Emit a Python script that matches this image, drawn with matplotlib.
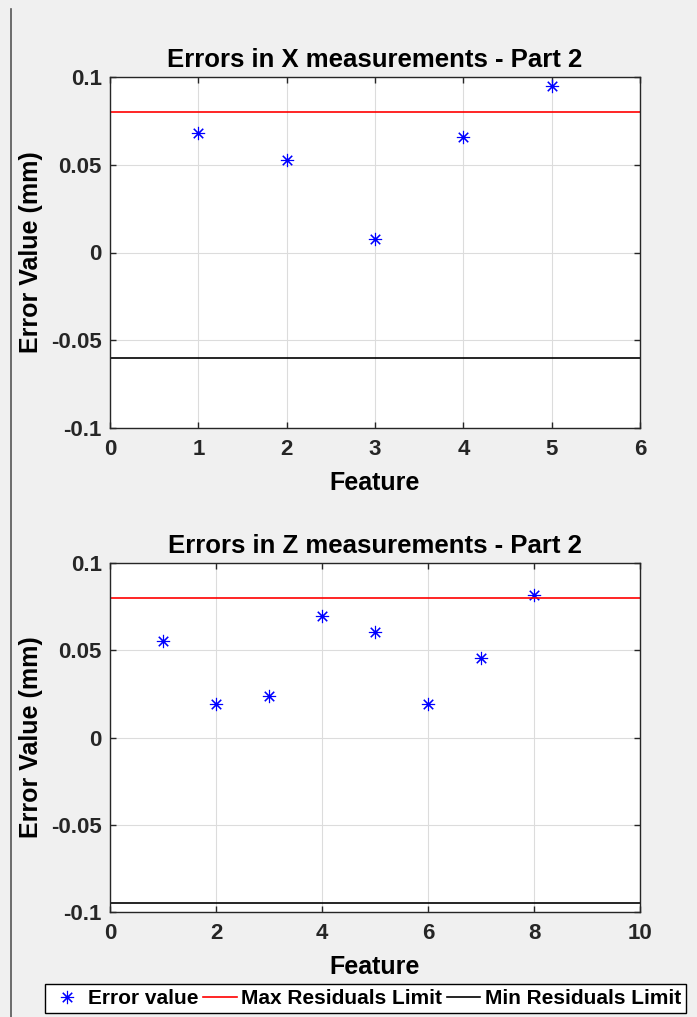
import numpy as np
import matplotlib.pyplot as plt
from matplotlib.lines import Line2D

plt.rcParams['font.family'] = ['Liberation Sans', 'DejaVu Sans']
plt.rcParams['font.weight'] = 'bold'

# X errors (part 2)
x_feat = [1, 2, 3, 4, 5]
x_err = [0.068, 0.0527, 0.0077, 0.0658, 0.0949]
x_max, x_min = 0.08, -0.06

# Z errors (part 2)
z_feat = [1, 2, 3, 4, 5, 6, 7, 8]
z_err = [0.0553, 0.0192, 0.0235, 0.0696, 0.0604, 0.0192, 0.0456, 0.0818]
z_max, z_min = 0.08, -0.095

W, H = 697, 1017
fig = plt.figure(figsize=(W / 100, H / 100), dpi=100, facecolor='#f0f0f0')

def px_axes(l, t, r, b):
    return fig.add_axes([l / W, 1 - b / H, (r - l) / W, (b - t) / H])

ast = (8, 2, 0)

def draw(ax, feats, errs, ymax, ymin, xmax, xticks, title):
    ax.plot(feats, errs, linestyle='none', marker=ast, color='#0000ff',
            markersize=9.5, markeredgewidth=0.8)
    ax.axhline(ymax, color='#ff0000', lw=1.2)
    ax.axhline(ymin, color='black', lw=1.2)
    ax.set_xlim(0, xmax)
    ax.set_ylim(-0.1, 0.1)
    ax.set_xticks(xticks)
    ax.set_yticks([-0.1, -0.05, 0, 0.05, 0.1])
    ax.set_yticklabels(['-0.1', '-0.05', '0', '0.05', '0.1'])
    ax.grid(True, color='#dcdcdc', lw=0.8)
    ax.set_axisbelow(True)
    ax.tick_params(direction='in', top=True, right=True, length=4,
                   labelsize=16, colors='#262626', width=1.0, pad=6)
    ax.tick_params(axis='x', pad=8)
    for s in ax.spines.values():
        s.set_color('#262626')
        s.set_linewidth(1.0)
    ax.set_title(title, fontsize=18.5, fontweight='bold', pad=7)
    ax.set_xlabel('Feature', fontsize=18, fontweight='bold', labelpad=8)
    ax.set_ylabel('Error Value (mm)', fontsize=18, fontweight='bold', labelpad=6)

ax1 = px_axes(110, 77, 640, 428)
draw(ax1, x_feat, x_err, x_max, x_min, 6, [0, 1, 2, 3, 4, 5, 6],
     'Errors in X measurements - Part 2')

ax2 = px_axes(110, 563, 640, 912)
draw(ax2, z_feat, z_err, z_max, z_min, 10, [0, 2, 4, 6, 8, 10],
     'Errors in Z measurements - Part 2')

# window edge on the left
fig.add_artist(Line2D([11 / W, 11 / W], [0, 1 - 9 / H], color='#555555', lw=1.2))

handles = [
    Line2D([], [], linestyle='none', marker=ast, color='#0000ff',
           markersize=9.5, markeredgewidth=0.8),
    Line2D([], [], color='#ff0000', lw=1.2),
    Line2D([], [], color='black', lw=1.2),
]
labels = ['Error value', 'Max Residuals Limit', 'Min Residuals Limit']
leg = fig.legend(handles, labels, ncol=3, loc='lower left',
                 bbox_to_anchor=(45 / W, 4 / H), frameon=True, fancybox=False,
                 edgecolor='black', facecolor='white', framealpha=1,
                 prop={'size': 15, 'weight': 'bold'}, handlelength=1.6,
                 handletextpad=0.2, columnspacing=0.25, borderpad=0.25,
                 borderaxespad=0)
leg.get_frame().set_linewidth(1.0)

fig.savefig('out.png', dpi=100, facecolor=fig.get_facecolor())
